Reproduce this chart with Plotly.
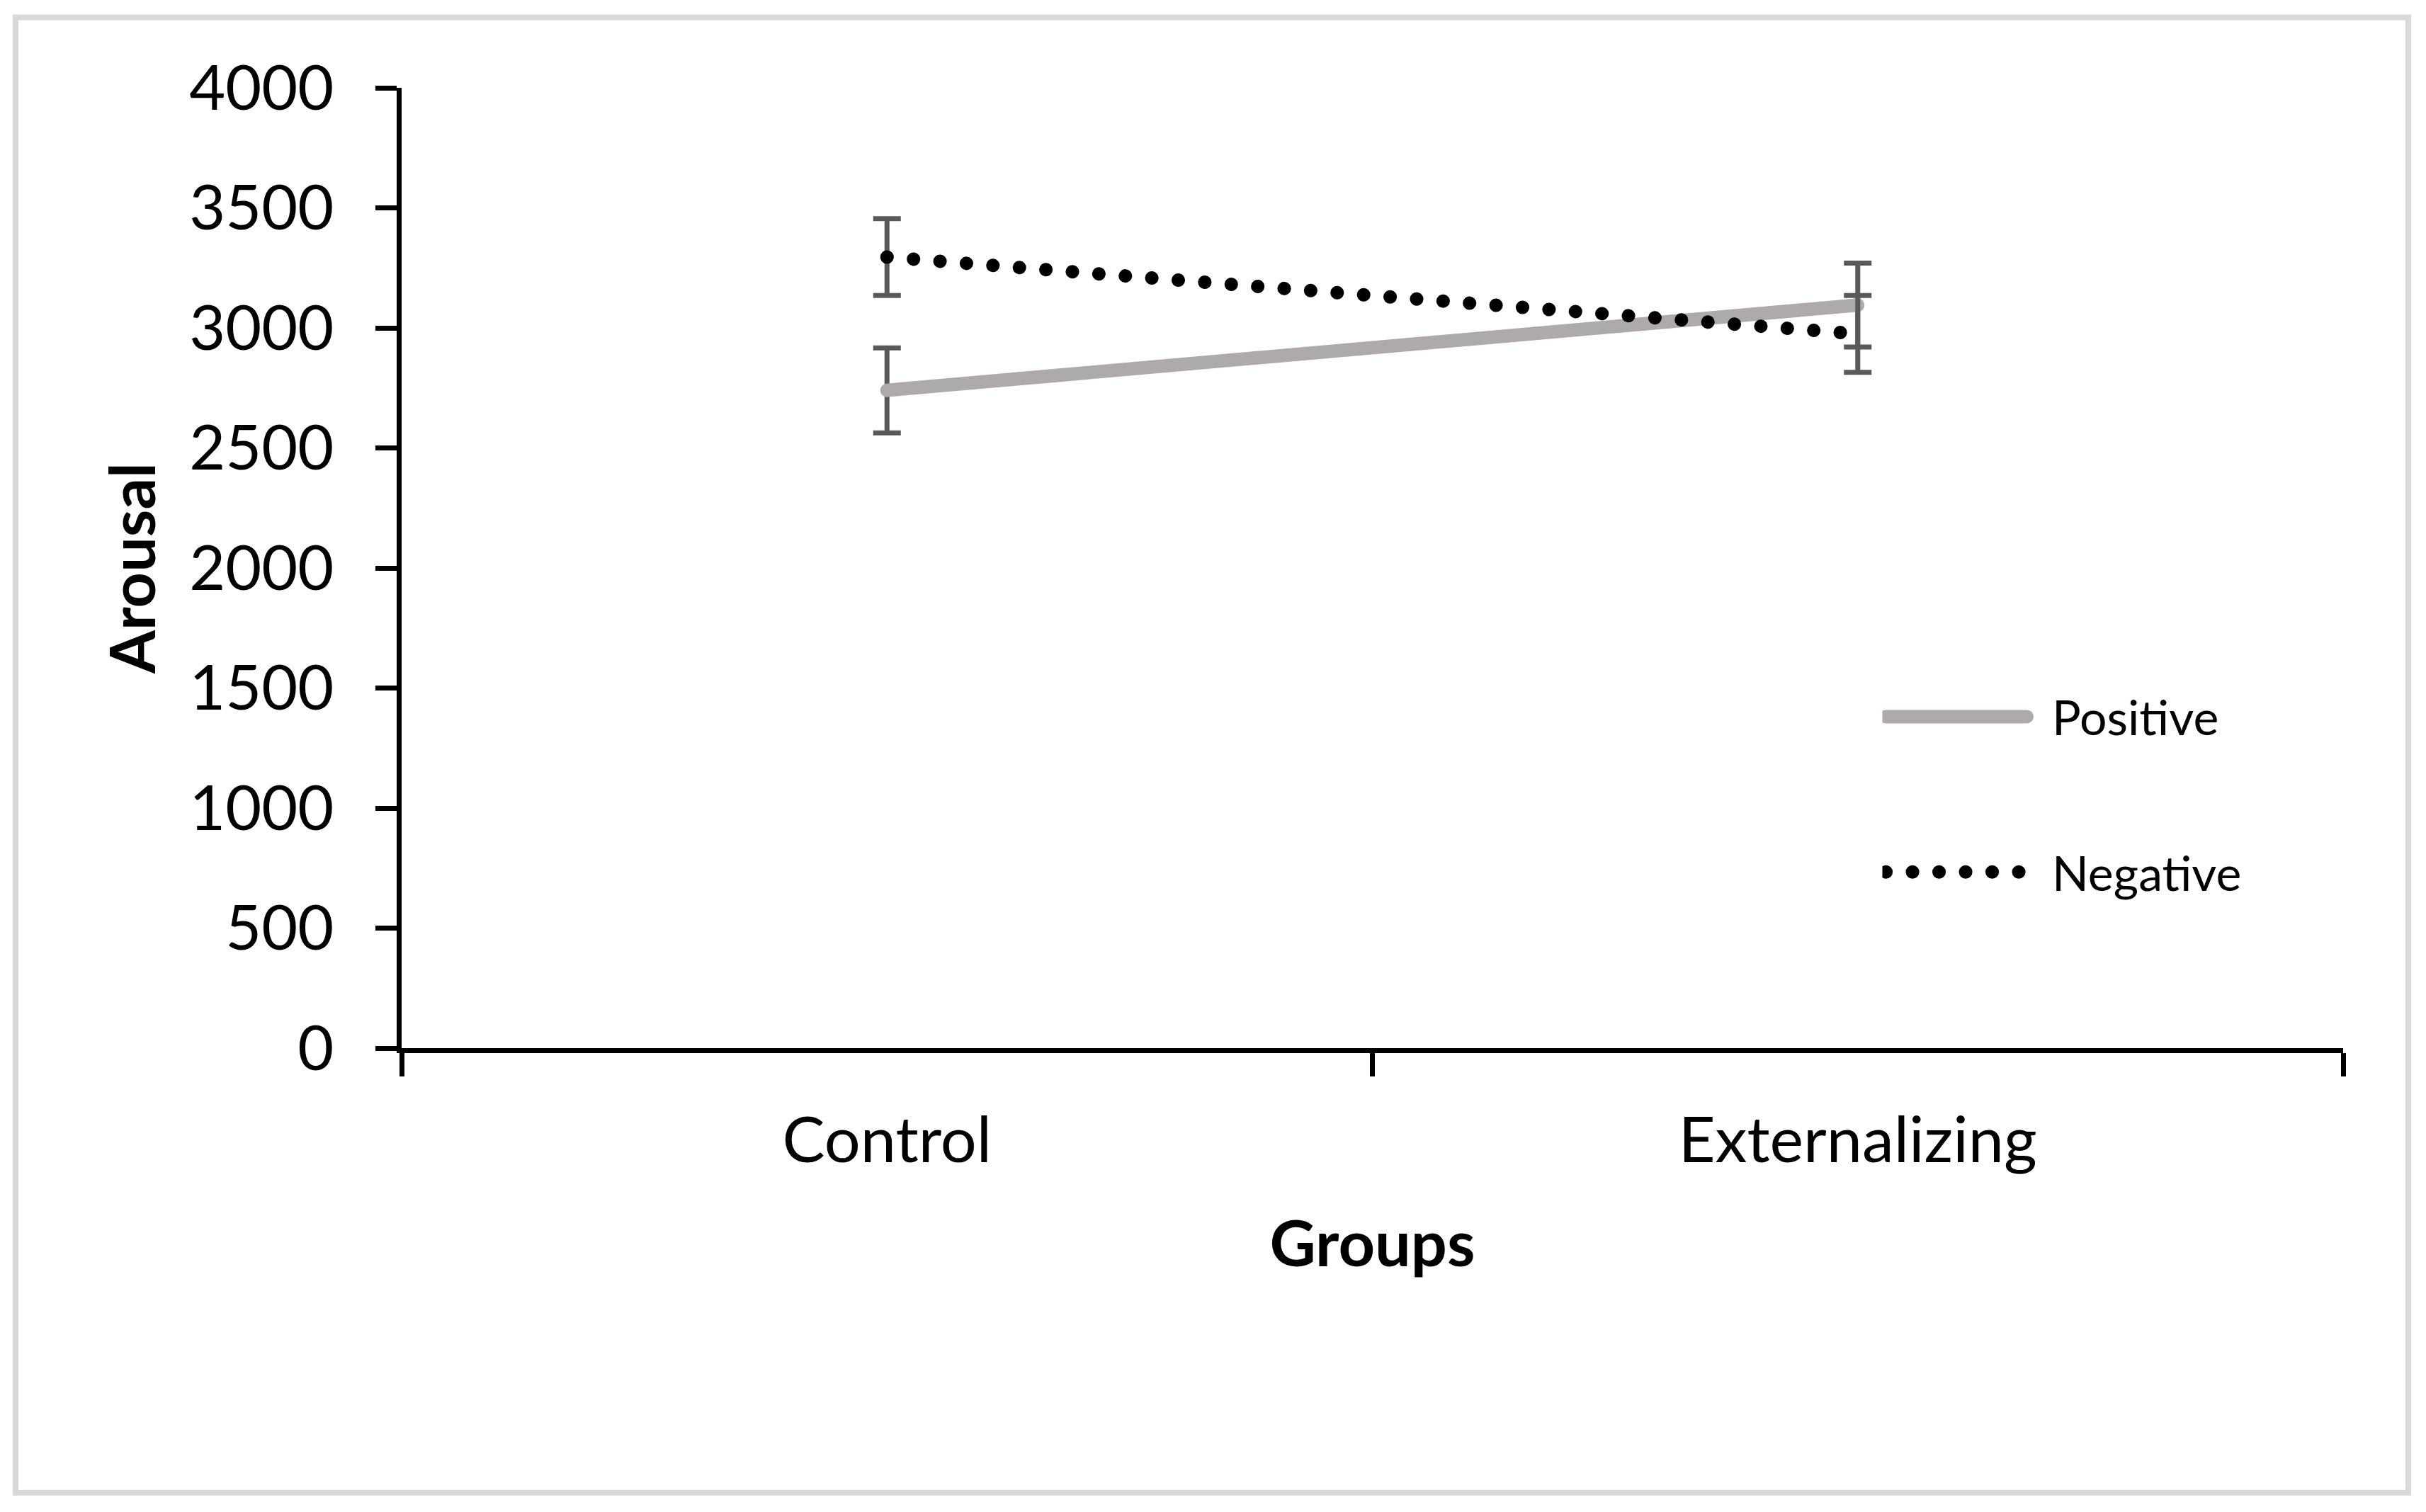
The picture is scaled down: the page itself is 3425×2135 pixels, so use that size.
import plotly.graph_objects as go

# ---- data ----
groups = ["Control", "Externalizing"]
positive = [2740, 3095]
positive_err = [177, 175]
negative = [3295, 2975]
negative_err = [160, 160]
y_ticks = [0, 500, 1000, 1500, 2000, 2500, 3000, 3500, 4000]

W, H = 3425, 2135
L, R, T, B = 567, 3425 - 3308, 123.5, 2135 - 1480
FONT = "Lato"
pw = W - L - R
ph = H - T - B

fig = go.Figure()

fig.add_trace(go.Scatter(
    x=groups, y=positive, name="Positive", mode="lines",
    line=dict(color="#AEAAAA", width=19),
    error_y=dict(type="data", array=positive_err, visible=True,
                 color="#595959", thickness=7, width=19.5),
    legendgroup="p",
))
fig.add_trace(go.Scatter(
    x=groups, y=negative, name="Negative", mode="lines",
    line=dict(color="#000000", width=19, dash="0.1px,37.4px"),
    error_y=dict(type="data", array=negative_err, visible=True,
                 color="#595959", thickness=7, width=19.5),
    legendgroup="n",
))

def px2paperx(px):
    return (px - L) / pw

def py2papery(py):
    return (H - B - py) / ph

fig.update_layout(
    width=W, height=H,
    margin=dict(l=L, r=R, t=T, b=B, pad=0),
    paper_bgcolor="white", plot_bgcolor="white",
    font=dict(family=FONT, color="black", size=89),
    showlegend=True,
    legend=dict(
        x=px2paperx(2657.5), y=py2papery(961), xanchor="left", yanchor="top",
        font=dict(family=FONT, size=68, color="black"),
        bgcolor="rgba(0,0,0,0)", borderwidth=0,
        tracegroupgap=128, itemwidth=229.5,
    ),
    xaxis=dict(
        type="category", range=[-0.5, 1.5],
        showline=True, linecolor="black", linewidth=7,
        ticks="outside", ticklen=33, tickwidth=7, tickcolor="black",
        tickson="boundaries", showgrid=False, zeroline=False,
        tickfont=dict(family=FONT, size=90, color="black"),
        ticklabelstandoff=46,
        title=dict(text="<b>Groups</b>", font=dict(family=FONT, size=90, color="black"), standoff=68),
    ),
    yaxis=dict(
        range=[0, 4000], tickvals=y_ticks,
        showline=True, linecolor="black", linewidth=7,
        ticks="outside", ticklen=30, tickwidth=7, tickcolor="black",
        showgrid=False, zeroline=False,
        tickfont=dict(family=FONT, size=88, color="black"),
        ticklabelstandoff=41,
        title=dict(text="<b>Arousal</b>", font=dict(family=FONT, size=88, color="black"), standoff=21),
    ),
    shapes=[dict(
        type="rect", xref="paper", yref="paper",
        x0=px2paperx(22), x1=px2paperx(3400),
        y0=py2papery(2108), y1=py2papery(24),
        line=dict(color="#D9D9D9", width=8), fillcolor="rgba(0,0,0,0)",
        layer="below",
    )],
)

post = ("var s=document.createElement('style');"
        "s.innerHTML='body{margin:0 !important;}"
        ".js-line{stroke-linecap:round !important;}"
        ".legendlines path{stroke-width:19px !important;}"
        ".legendlines path[style*=\"174, 170, 170\"]{stroke-dasharray:199px,2000px !important;}"
        ".legendlines path[style*=\"rgb(0, 0, 0)\"]{stroke-dasharray:0.1px,37.4px,0.1px,37.4px,0.1px,37.4px,0.1px,37.4px,0.1px,37.4px,0.1px,2000px !important;}';"
        "document.head.appendChild(s);")
fig.write_html("out.html", post_script=post, config={"displayModeBar": False})
